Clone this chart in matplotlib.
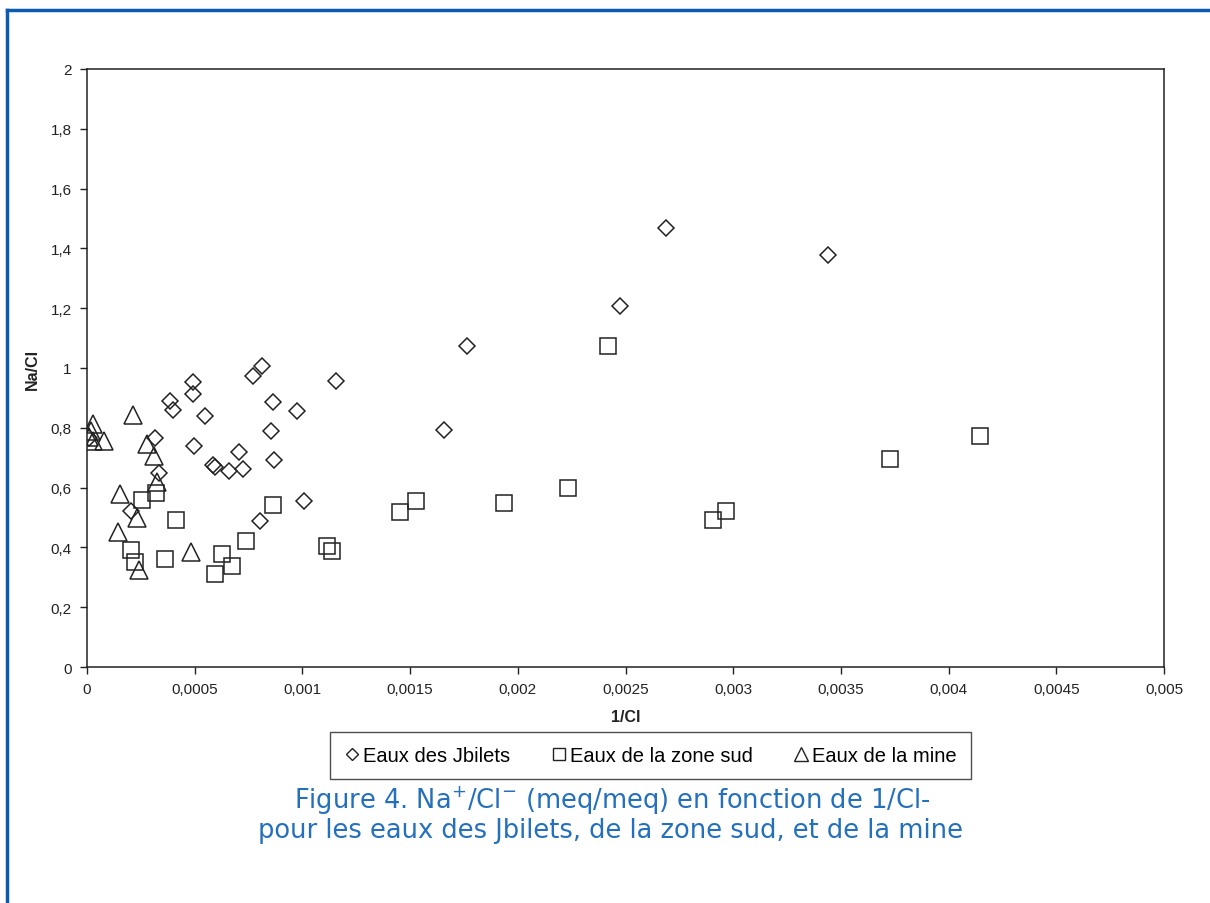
import matplotlib
matplotlib.use("Agg")
import matplotlib.pyplot as plt
from matplotlib.lines import Line2D
from matplotlib.ticker import FuncFormatter, MultipleLocator

# data: 1/Cl and Na/Cl
jbilets_x = [0.0000107, 0.000203, 0.000316, 0.000334, 0.000385, 0.000401, 0.000494, 0.000494,
             0.000498, 0.000546, 0.000583, 0.000593, 0.000661, 0.000706, 0.000723, 0.000772,
             0.000803, 0.000814, 0.000853, 0.000865, 0.000868, 0.000973, 0.001007, 0.001156,
             0.001659, 0.001763, 0.002474, 0.002688, 0.003438]
jbilets_y = [0.765, 0.521, 0.766, 0.649, 0.889, 0.861, 0.954, 0.913,
             0.740, 0.838, 0.675, 0.670, 0.657, 0.720, 0.662, 0.974,
             0.487, 1.006, 0.790, 0.885, 0.693, 0.857, 0.556, 0.955,
             0.793, 1.075, 1.208, 1.467, 1.379]

sud_x = [0.000204, 0.000223, 0.000254, 0.000320, 0.000362, 0.000413, 0.000594, 0.000625,
         0.000675, 0.000737, 0.000865, 0.001116, 0.001139, 0.001453, 0.001527, 0.001936,
         0.002235, 0.002420, 0.002905, 0.002965, 0.003728, 0.004146]
sud_y = [0.392, 0.350, 0.559, 0.581, 0.361, 0.493, 0.311, 0.378,
         0.337, 0.422, 0.542, 0.404, 0.387, 0.519, 0.556, 0.547,
         0.598, 1.075, 0.493, 0.521, 0.696, 0.774]

mine_x = [0.00003, 0.00002, 0.00001, 0.00003, 0.00008, 0.000212, 0.000277, 0.000311,
          0.000327, 0.000153, 0.000234, 0.000146, 0.000243, 0.000481]
mine_y = [0.813, 0.790, 0.770, 0.755, 0.755, 0.843, 0.746, 0.707,
          0.618, 0.579, 0.498, 0.450, 0.325, 0.384]

labels = ["Eaux des Jbilets", "Eaux de la zone sud", "Eaux de la mine"]

plt.rcParams['font.family'] = ['Liberation Sans', 'DejaVu Sans']
ink = '#222222'

fig = plt.figure(figsize=(12.1, 9.04), dpi=100)
ax = fig.add_axes([87/1210, 1 - 668/904, (1164 - 87)/1210, (668 - 70)/904])

ax.plot(jbilets_x, jbilets_y, ls='none', marker='D', ms=8.6, mfc='none', mec=ink, mew=1.1)
ax.plot(sud_x, sud_y, ls='none', marker='s', ms=11.5, mfc='none', mec=ink, mew=1.1)
ax.plot(mine_x, mine_y, ls='none', marker='^', ms=12.5, mfc='none', mec=ink, mew=1.1)

ax.set_xlim(0, 0.005)
ax.set_ylim(0, 2)
ax.xaxis.set_major_locator(MultipleLocator(0.0005))
ax.yaxis.set_major_locator(MultipleLocator(0.2))
comma = FuncFormatter(lambda v, p: ('%g' % round(v, 6)).replace('.', ','))
ax.xaxis.set_major_formatter(comma)
ax.yaxis.set_major_formatter(comma)
ax.tick_params(direction='out', length=5, width=1, color=ink, labelcolor=ink, labelsize=11, pad=6)
for s in ax.spines.values():
    s.set_color(ink)
    s.set_linewidth(1.1)

ax.set_xlabel('1/Cl', fontsize=11.5, fontweight='bold', color=ink, labelpad=9)
ax.set_ylabel('Na/Cl', fontsize=11.5, fontweight='bold', color=ink, labelpad=8)

handles = [
    Line2D([], [], ls='none', marker='D', ms=6.5, mfc='none', mec=ink, mew=1),
    Line2D([], [], ls='none', marker='s', ms=8.5, mfc='none', mec=ink, mew=1),
    Line2D([], [], ls='none', marker='^', ms=10, mfc='none', mec=ink, mew=1),
]
leg = fig.legend(handles, labels, ncol=3, loc='center', bbox_to_anchor=(650.5/1210, 1 - 756.5/904),
                 fontsize=14.5, frameon=True, fancybox=False, edgecolor=ink, handlelength=0.8,
                 handletextpad=0.15, columnspacing=2.0, borderpad=0.7, borderaxespad=0)
leg.get_frame().set_linewidth(1)

blue = '#2470bd'
fig.text(612/1210, 1 - 801/904, r'Figure 4. Na$^{+}$/Cl$^{-}$ (meq/meq) en fonction de 1/Cl-',
         ha='center', va='center', fontsize=18.5, color=blue, family='DejaVu Sans')
fig.text(611/1210, 1 - 831/904, 'pour les eaux des Jbilets, de la zone sud, et de la mine',
         ha='center', va='center', fontsize=18.5, color=blue, family='DejaVu Sans')

# blue frame (top and left edges)
frame = '#0b5cb0'
fig.add_artist(Line2D([7/1210, 1], [1 - 11/904, 1 - 11/904], transform=fig.transFigure, color=frame, lw=2.5))
fig.add_artist(Line2D([7/1210, 7/1210], [0, 1 - 11/904], transform=fig.transFigure, color=frame, lw=2.5))

fig.savefig('out.png', dpi=100)
